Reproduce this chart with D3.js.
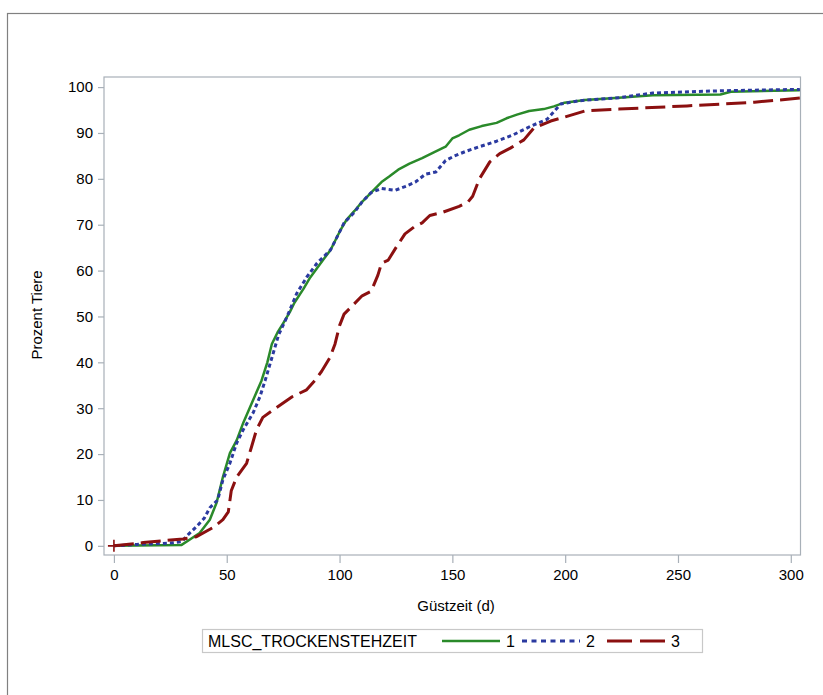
<!DOCTYPE html>
<html>
<head>
<meta charset="utf-8">
<script src="https://cdn.jsdelivr.net/npm/d3@7"></script>
<style>
  body { margin: 0; background: #fff; }
  svg text { font-family: "Liberation Sans", Arial, sans-serif; fill: #000; }
</style>
</head>
<body>
<svg id="chart" width="823" height="695"></svg>
<script>
// Kaplan-Meier like cumulative curves
var days1 = [0, 30, 34, 38, 42.5, 45.5, 48.3, 51.4, 54.4, 57.3, 61.7, 65.4, 68, 70, 72.5, 75, 78, 80, 84, 87, 90, 93, 96, 100.6, 103, 106.6, 110, 114, 118.6, 122, 126, 131, 136.6, 142, 147, 150, 153, 157.5, 163, 169.6, 174, 178.6, 184, 190.5, 195, 199.7, 208.8, 223.8, 238.8, 268.8, 273.4, 304];
var pct1 = [0, 0.2, 1.5, 2.8, 5.7, 9.4, 15, 20.2, 23, 26.8, 31.8, 36, 40, 44, 46.5, 48.5, 51, 53, 56, 58.5, 60.5, 62.5, 64.5, 69, 71, 73, 75, 77, 79.3, 80.5, 82, 83.3, 84.5, 85.8, 87, 88.8, 89.5, 90.7, 91.5, 92.2, 93.2, 94, 94.8, 95.2, 95.8, 96.6, 97.2, 97.7, 98.2, 98.4, 99, 99.3];

var days2 = [0, 10, 20, 25, 30, 33, 36.6, 40, 42.5, 46, 48.3, 51.4, 54.4, 57.3, 61.7, 64.7, 67, 70, 73, 76.6, 81, 85.5, 90, 96, 100.6, 102, 106.6, 110, 114, 118.6, 124.6, 129, 133.6, 138, 142.7, 147, 151, 156, 162, 169.6, 177, 184.8, 192, 198, 205.6, 224, 238.8, 268.8, 304];
var pct2 = [0, 0.3, 0.5, 0.6, 0.9, 2.5, 4.2, 6, 8.3, 10, 14.4, 18, 22.4, 25.3, 29, 32.5, 36, 41, 46, 49.8, 55, 58.6, 61.6, 64.5, 69, 70.4, 72.7, 75, 77, 77.9, 77.5, 78.3, 79.3, 81, 81.5, 84, 85, 86, 87, 88.2, 89.6, 91.5, 93, 96.3, 97, 97.7, 98.7, 99.2, 99.5];

var days3 = [0, 13, 30.6, 36.6, 44, 48.3, 50.7, 52, 54.4, 58.8, 61, 63.2, 66, 70.5, 79, 85.4, 89, 92, 95.7, 98, 100, 102, 105, 110, 114, 117, 118.6, 121.6, 125, 129, 133, 136.6, 140, 145.7, 153, 157, 159, 162, 166.6, 171, 175.7, 181.7, 186, 193.6, 200, 208.8, 223.8, 254, 283.9, 304];
var pct3 = [0, 0.7, 1.5, 2, 4, 5.7, 7.4, 12, 15, 18, 21.6, 25.3, 28, 29.6, 32.5, 34, 36, 38, 41, 44, 48, 50.5, 52, 54.5, 55.5, 59, 61.6, 62.3, 65, 68, 69.5, 70.4, 72, 72.7, 74, 75, 76.2, 80, 83.7, 85.5, 86.7, 88.5, 91, 92.6, 93.5, 94.8, 95.2, 95.9, 96.7, 97.6];

var groups = ["1", "2", "3"];
var xTicks = [0, 50, 100, 150, 200, 250, 300];
var yTicks = [0, 10, 20, 30, 40, 50, 60, 70, 80, 90, 100];

var series = [
  { name: groups[0], days: days1, pct: pct1, color: "#2a8a2a", dash: null, legDash: null, width: 2.5 },
  { name: groups[1], days: days2, pct: pct2, color: "#2b3aa0", dash: "4,3", legDash: "5,4.5", width: 3 },
  { name: groups[2], days: days3, pct: pct3, color: "#8b1010", dash: "20,7", legDash: "25,8", width: 3 }
];

var svg = d3.select("#chart");

// outer frame
svg.append("rect")
  .attr("x", 7.5).attr("y", 13.5)
  .attr("width", 830).attr("height", 700)
  .attr("fill", "none").attr("stroke", "#808080").attr("stroke-width", 1.2);

var pLeft = 104, pRight = 800.5, pTop = 77, pBottom = 555;
var x = d3.scaleLinear().domain([-4.4, 304.3]).range([pLeft, pRight]);
var y = d3.scaleLinear().domain([-2, 102.2]).range([pBottom, pTop]);

var g = svg.append("g");

// plot frame
g.append("rect")
  .attr("x", pLeft).attr("y", pTop)
  .attr("width", pRight - pLeft).attr("height", pBottom - pTop)
  .attr("fill", "none").attr("stroke", "#a8b0b8").attr("stroke-width", 1.2);

// axes
var xAxis = g.append("g")
  .attr("transform", "translate(0," + pBottom + ")")
  .call(d3.axisBottom(x).tickValues(xTicks).tickSize(8).tickPadding(6));
var yAxis = g.append("g")
  .attr("transform", "translate(" + pLeft + ",0)")
  .call(d3.axisLeft(y).tickValues(yTicks).tickSize(6).tickPadding(5));

[xAxis, yAxis].forEach(function (a) {
  a.select(".domain").remove();
  a.selectAll(".tick line").attr("stroke", "#a8b0b8").attr("stroke-width", 1.2);
  a.selectAll(".tick text").attr("font-size", 15).attr("fill", "#000")
    .attr("font-family", "'Liberation Sans', Arial, sans-serif");
});

g.append("text")
  .attr("x", 456).attr("y", 611)
  .attr("text-anchor", "middle").attr("font-size", 15)
  .text("Güstzeit (d)");

g.append("text")
  .attr("transform", "translate(42,315) rotate(-90)")
  .attr("text-anchor", "middle").attr("font-size", 15)
  .text("Prozent Tiere");

// curves
var line = d3.line()
  .x(function (d) { return x(d[0]); })
  .y(function (d) { return y(d[1]); });

series.forEach(function (s) {
  g.append("path")
    .datum(d3.zip(s.days, s.pct))
    .attr("fill", "none")
    .attr("stroke", s.color)
    .attr("stroke-width", s.width)
    .attr("stroke-dasharray", s.dash)
    .attr("stroke-linejoin", "round")
    .attr("d", line);
});

// start marker
g.append("path")
  .attr("transform", "translate(" + x(0) + "," + y(0) + ")")
  .attr("d", "M-6,0H6M0,-6V6")
  .attr("stroke", "#8b1010").attr("stroke-width", 1.6);

// legend
var lg = svg.append("g");
lg.append("rect")
  .attr("x", 202.5).attr("y", 629.5).attr("width", 500).attr("height", 23)
  .attr("fill", "#fff").attr("stroke", "#c8c8c8").attr("stroke-width", 1.2);
lg.append("text")
  .attr("x", 208).attr("y", 647).attr("font-size", 16)
  .text("MLSC_TROCKENSTEHZEIT");

var legX = [442, 522, 607];
series.forEach(function (s, i) {
  lg.append("line")
    .attr("x1", legX[i]).attr("x2", legX[i] + 58)
    .attr("y1", 641).attr("y2", 641)
    .attr("stroke", s.color).attr("stroke-width", s.width)
    .attr("stroke-dasharray", s.legDash);
  lg.append("text")
    .attr("x", legX[i] + 64).attr("y", 647).attr("font-size", 16)
    .text(s.name);
});
</script>
</body>
</html>
